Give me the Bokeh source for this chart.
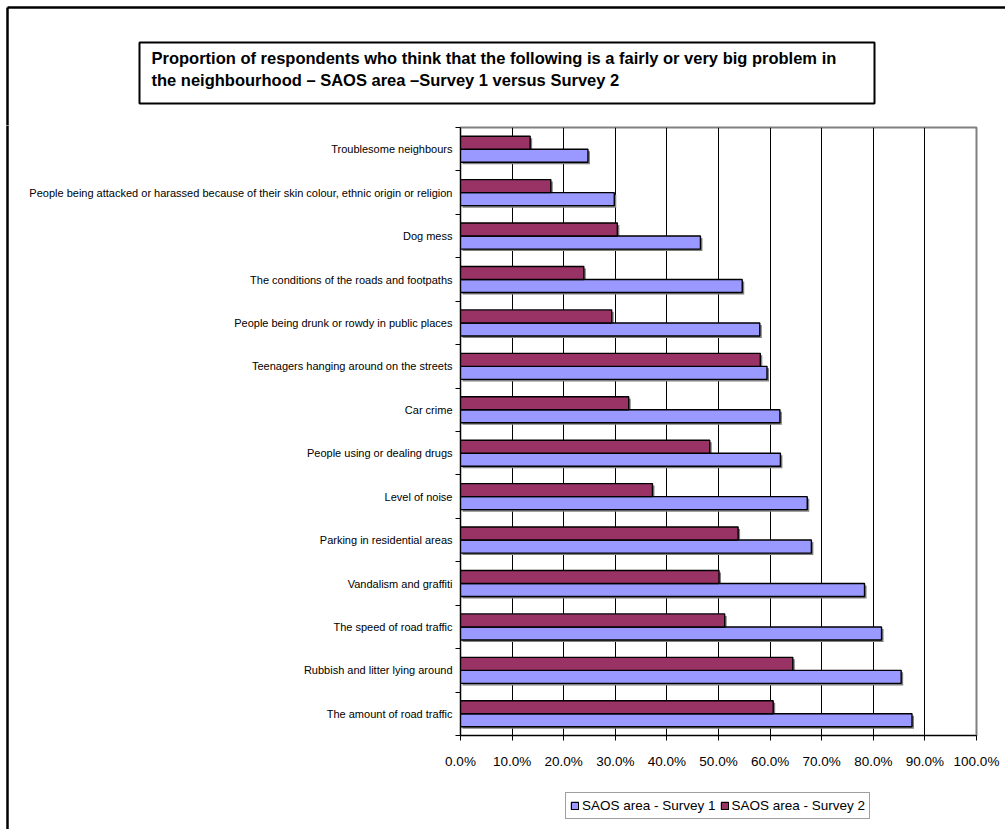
from bokeh.plotting import figure
from bokeh.layouts import column, row
from bokeh.models import (ColumnDataSource, Range1d, FixedTicker, NumeralTickFormatter,
                          Legend, LegendItem)
from bokeh.transform import dodge
from bokeh.core.properties import value
from bokeh.embed import file_html
from bokeh.resources import INLINE

# ---------------- data (top to bottom as shown) ----------------
categories = [
    "Troublesome neighbours",
    "People being attacked or harassed because of their skin colour, ethnic origin or religion",
    "Dog mess",
    "The conditions of the roads and footpaths",
    "People being drunk or rowdy in public places",
    "Teenagers hanging around on the streets",
    "Car crime",
    "People using or dealing drugs",
    "Level of noise",
    "Parking in residential areas",
    "Vandalism and graffiti",
    "The speed of road traffic",
    "Rubbish and litter lying around",
    "The amount of road traffic",
]
survey1 = [24.7, 29.8, 46.5, 54.6, 58.0, 59.4, 61.9, 62.0, 67.2, 68.0, 78.3, 81.6, 85.4, 87.5]
survey2 = [13.5, 17.5, 30.4, 23.9, 29.3, 58.1, 32.6, 48.3, 37.2, 53.8, 50.1, 51.2, 64.4, 60.6]
x_ticks = [0.0, 0.1, 0.2, 0.3, 0.4, 0.5, 0.6, 0.7, 0.8, 0.9, 1.0]
series_names = ["SAOS area - Survey 1", "SAOS area - Survey 2"]
series_colors = ["#9999FF", "#993366"]
title_lines = [
    "Proportion of respondents who think that the following is a fairly or very big problem in",
    "the neighbourhood \u2013 SAOS area \u2013Survey 1 versus Survey 2",
]

FONT = "Liberation Sans"
W = 1005
HEADER_H = 125
STRIP_W = 10
MAIN_H = 652
LEG_H = 829 - HEADER_H - MAIN_H
BODY_H = MAIN_H + LEG_H
FRAME_L, FRAME_R = 460, 976          # page x of plot frame
FRAME_T, FRAME_B = 127, 735          # page y of plot frame
n = len(categories)


def bare(width, height, xr, yr, **kw):
    opts = dict(min_border=0)
    opts.update(kw)
    f = figure(width=width, height=height, x_range=xr, y_range=yr,
               output_backend="svg", toolbar_location=None,
               x_axis_location=None, y_axis_location=None,
               outline_line_color=None,
               background_fill_color="white", border_fill_color="white", **opts)
    f.grid.visible = False
    return f


# ---------------- header: page frame + title box ----------------
header = bare(W, HEADER_H, Range1d(0, W), Range1d(HEADER_H, 0))
header.segment(x0=[7, 7], y0=[7, 7], x1=[W + 5, 7], y1=[7, HEADER_H + 5],
               line_color="black", line_width=2.5)
header.quad(left=[139], right=[874], top=[42], bottom=[103],
            fill_color=None, line_color="black", line_width=2)
header.text(x=[151, 151], y=[57, 79], text=title_lines,
            text_font=value(FONT), text_font_size="16.5px", text_font_style="bold",
            text_baseline="middle", text_align="left", text_color="black")

# ---------------- left strip: page frame continues ----------------
strip = bare(STRIP_W, BODY_H, Range1d(0, STRIP_W), Range1d(BODY_H, 0))
strip.segment(x0=[7], y0=[-5], x1=[7], y1=[BODY_H + 5],
              line_color="black", line_width=2.5)

# ---------------- main chart ----------------
ypos = [n - j - 0.5 for j in range(n)]
src = ColumnDataSource(dict(
    cat=categories, y=ypos,
    s1=[v / 100 for v in survey1],
    s2=[v / 100 for v in survey2],
))
top_border = FRAME_T - HEADER_H
p = figure(width=W - STRIP_W, height=MAIN_H, output_backend="svg", toolbar_location=None,
           x_range=Range1d(0, 1), y_range=Range1d(0, n),
           min_border_left=FRAME_L - STRIP_W, min_border_right=W - FRAME_R,
           min_border_top=top_border,
           min_border_bottom=MAIN_H - top_border - (FRAME_B - FRAME_T),
           background_fill_color="white", border_fill_color="white")
p.outline_line_color = "#808080"
p.outline_line_width = 2

# bar shadows (2px right / down)
dx = 2.0 / (FRAME_R - FRAME_L)
dy = 2.0 / ((FRAME_B - FRAME_T) / n)
shadow = ColumnDataSource(dict(
    y1=[y - 0.15 - dy for y in ypos], y2=[y + 0.15 - dy for y in ypos],
    s1=[v / 100 + dx for v in survey1], s2=[v / 100 + dx for v in survey2],
))
p.hbar(y="y1", left=dx, right="s1", height=0.3, source=shadow,
       fill_color="#808080", line_color=None)
p.hbar(y="y2", left=dx, right="s2", height=0.3, source=shadow,
       fill_color="#808080", line_color=None)

r1 = p.hbar(y=dodge("y", -0.15), left=0, right="s1", height=0.3, source=src,
            fill_color=series_colors[0], line_color="black", line_width=1.4)
r2 = p.hbar(y=dodge("y", 0.15), left=0, right="s2", height=0.3, source=src,
            fill_color=series_colors[1], line_color="black", line_width=1.4)

xa = p.xaxis[0]
xa.ticker = FixedTicker(ticks=x_ticks)
xa.formatter = NumeralTickFormatter(format="0.0%")
xa.major_tick_out = 5
xa.major_tick_in = 0
xa.minor_tick_line_color = None
xa.axis_line_color = "black"
xa.major_tick_line_color = "black"
xa.major_label_text_font = FONT
xa.major_label_text_font_size = "13.5px"
xa.major_label_text_color = "black"
xa.major_label_standoff = 13

ya = p.yaxis[0]
ya.ticker = FixedTicker(ticks=ypos, minor_ticks=list(range(n + 1)))
ya.major_label_overrides = {y: c for y, c in zip(ypos, categories)}
ya.major_tick_line_color = None
ya.major_tick_out = 5
ya.major_tick_in = 0
ya.minor_tick_line_color = "black"
ya.minor_tick_out = 5
ya.minor_tick_in = 0
ya.axis_line_color = "black"
ya.major_label_text_font = FONT
ya.major_label_text_font_size = "11px"
ya.major_label_text_color = "black"
ya.major_label_standoff = 3

p.xgrid.ticker = FixedTicker(ticks=x_ticks)
p.xgrid.grid_line_color = "black"
p.xgrid.grid_line_width = 1
p.ygrid.visible = False

# ---------------- legend strip (frame aligned with main chart frame) ----------------
leg_left_page, leg_bot_page = 565, 819
legfig = bare(W - STRIP_W, LEG_H, Range1d(0, 1), Range1d(0, 1),
              min_border_left=FRAME_L - STRIP_W, min_border_right=W - FRAME_R,
              min_border_top=0, min_border_bottom=0)
lr1 = legfig.hbar(y=[-5], right=[0.5], left=0, height=0.3,
                  fill_color=series_colors[0], line_color="black", line_width=1.2)
lr2 = legfig.hbar(y=[-5], right=[0.5], left=0, height=0.3,
                  fill_color=series_colors[1], line_color="black", line_width=1.2)
legend = Legend(items=[LegendItem(label=series_names[0], renderers=[lr1]),
                       LegendItem(label=series_names[1], renderers=[lr2])],
                orientation="horizontal",
                location=(leg_left_page - FRAME_L, 829 - leg_bot_page))
legend.border_line_color = "#404040"
legend.border_line_width = 1
legend.label_text_font = FONT
legend.label_text_font_size = "13.5px"
legend.label_text_color = "black"
legend.glyph_width = 9
legend.glyph_height = 9
legend.label_standoff = 3
legend.spacing = 4
legend.padding = 4
legend.margin = 0
legend.label_height = 17
legend.background_fill_color = "white"
legfig.add_layout(legend, "center")

layout = column(header, row(strip, column(p, legfig)))
open("out.html", "w").write(file_html(layout, INLINE))
